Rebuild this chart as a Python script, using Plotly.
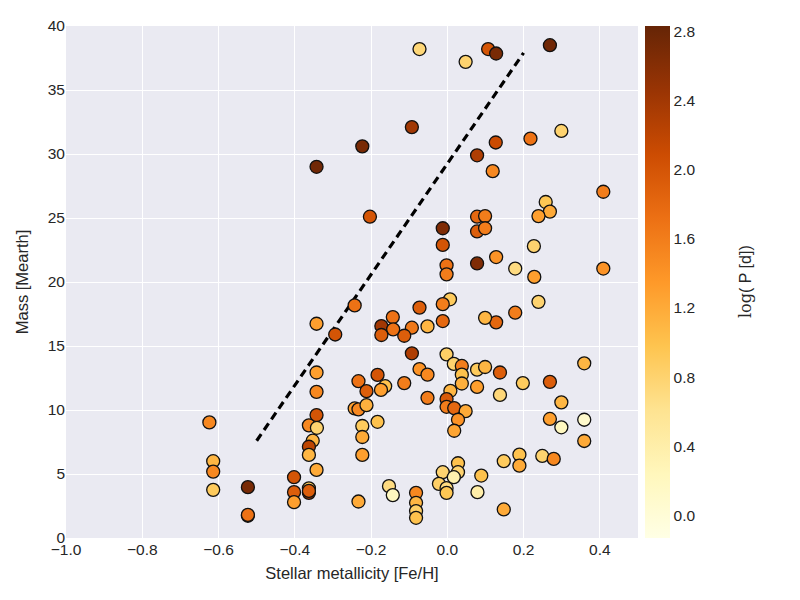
import plotly.graph_objects as go

feh = [-0.073, 0.048, 0.107, 0.128, 0.269, -0.093, -0.223, -0.343, -0.203, 0.078,
       0.127, 0.218, 0.299, 0.119, 0.409, 0.258, 0.269, 0.239, 0.078, 0.099,
       -0.012, 0.078, 0.099, -0.012, 0.227, 0.128, -0.002, -0.002, 0.078, 0.178,
       0.409, 0.228, 0.239, 0.178, 0.128, 0.099, 0.007, -0.012, -0.073, -0.012,
       -0.052, -0.093, -0.113, -0.093, -0.002, 0.017, 0.038, 0.038, 0.038, 0.078,
       0.099, 0.138, 0.078, 0.138, 0.198, 0.269, 0.359, 0.299, 0.269, 0.299,
       0.359, 0.359, -0.073, -0.052, -0.113, -0.052, 0.008, -0.002, -0.002, 0.018,
       0.048, 0.028, 0.018, 0.148, 0.189, 0.189, 0.249, 0.279, -0.012, 0.028,
       0.028, 0.017, -0.022, -0.002, -0.002, 0.089, 0.079, 0.148, -0.082, -0.082,
       -0.082, -0.082, -0.243, -0.343, -0.294, -0.173, -0.143, -0.142, -0.173, -0.343,
       -0.343, -0.233, -0.183, -0.212, -0.163, -0.174, -0.243, -0.233, -0.212, -0.343,
       -0.363, -0.342, -0.353, -0.363, -0.363, -0.223, -0.183, -0.223, -0.223, -0.343,
       -0.624, -0.614, -0.614, -0.614, -0.523, -0.523, -0.523, -0.402, -0.402, -0.402,
       -0.363, -0.363, -0.363, -0.233, -0.153, -0.143]

mass = [38.2, 37.2, 38.2, 37.85, 38.5, 32.1, 30.6, 29.0, 25.1, 29.9,
        30.9, 31.2, 31.8, 28.66, 27.05, 26.25, 25.5, 25.15, 25.1, 25.15,
        24.2, 23.95, 24.2, 22.9, 22.8, 21.95, 21.3, 20.6, 21.45, 21.05,
        21.05, 20.4, 18.45, 17.6, 16.85, 17.2, 18.65, 18.27, 18.0, 16.95,
        16.53, 16.43, 15.8, 14.43, 14.35, 13.6, 13.44, 12.76, 12.07, 13.15,
        13.36, 12.93, 11.8, 11.18, 12.1, 12.2, 13.65, 10.6, 9.3, 8.65,
        9.24, 7.58, 13.2, 12.76, 12.1, 10.95, 11.5, 10.85, 10.25, 10.15,
        9.91, 9.24, 8.38, 6.0, 6.51, 5.65, 6.41, 6.18, 5.14, 5.84,
        5.14, 4.75, 4.23, 3.9, 3.53, 4.88, 3.58, 2.23, 3.53, 2.75,
        2.1, 1.58, 18.17, 16.74, 15.9, 16.56, 17.26, 16.3, 15.86, 12.93,
        11.42, 12.25, 12.74, 11.47, 11.86, 11.57, 10.12, 10.05, 10.38, 9.6,
        8.8, 8.61, 7.6, 7.13, 6.49, 8.75, 9.08, 7.89, 6.49, 5.32,
        9.03, 6.0, 5.19, 3.76, 3.97, 1.74, 1.81, 4.75, 3.58, 2.8,
        3.88, 3.53, 3.68, 2.85, 4.05, 3.35]

logp = [0.75, 0.8, 2.0, 2.7, 2.75, 2.4, 2.7, 2.75, 2.0, 2.3,
        2.1, 1.7, 0.8, 1.5, 1.6, 0.95, 1.2, 1.3, 1.8, 1.6,
        2.65, 1.9, 1.6, 2.0, 0.8, 1.4, 1.7, 1.6, 2.65, 0.7,
        1.4, 1.3, 0.8, 1.6, 1.8, 1.1, 0.9, 1.6, 1.9, 1.8,
        1.1, 1.65, 1.9, 2.3, 0.85, 0.8, 1.6, 1.0, 1.15, 0.9,
        1.1, 1.9, 1.3, 0.75, 0.9, 1.9, 1.1, 1.1, 1.3, 0.2,
        0.1, 1.2, 1.4, 1.5, 1.6, 1.6, 1.1, 1.95, 1.6, 1.8,
        1.2, 1.4, 1.25, 0.9, 1.0, 1.2, 0.8, 1.5, 0.8, 1.0,
        0.8, 0.35, 0.85, 0.7, 0.95, 1.0, 0.4, 1.2, 1.5, 1.1,
        0.85, 1.0, 1.7, 1.3, 2.0, 2.4, 1.7, 1.7, 1.9, 1.3,
        1.5, 1.7, 2.0, 1.9, 1.0, 1.3, 1.3, 1.5, 1.15, 2.0,
        1.5, 0.8, 1.1, 2.2, 1.1, 0.9, 1.0, 1.2, 1.3, 1.2,
        1.5, 1.1, 1.5, 0.9, 2.7, 2.7, 1.7, 2.0, 1.9, 1.3,
        0.9, 2.3, 1.9, 1.2, 0.7, 0.2]

line_x = [-0.5, 0.2]
line_y = [7.6, 37.9]

x_ticks = [-1.0, -0.8, -0.6, -0.4, -0.2, 0.0, 0.2, 0.4]
y_ticks = [0, 5, 10, 15, 20, 25, 30, 35, 40]
cb_ticks = [0.0, 0.4, 0.8, 1.2, 1.6, 2.0, 2.4, 2.8]

ylorbr = [[0.0, "#ffffe5"], [0.125, "#fff7bc"], [0.25, "#fee391"], [0.375, "#fec44f"],
          [0.5, "#fe9929"], [0.625, "#ec7014"], [0.75, "#cc4c02"], [0.875, "#993404"],
          [1.0, "#662506"]]

font = "Liberation Sans, Arial, sans-serif"
txt = "#262626"

fig = go.Figure()
fig.add_trace(go.Scatter(
    x=line_x, y=line_y, mode="lines",
    line=dict(color="black", width=3.2, dash="8px,5px"),
    showlegend=False, hoverinfo="skip"))
fig.add_trace(go.Scatter(
    x=feh, y=mass, mode="markers", showlegend=False,
    marker=dict(size=13, color=logp, colorscale=ylorbr, cmin=-0.13, cmax=2.83,
                line=dict(color="#111111", width=1.3),
                colorbar=dict(
                    x=1.012, xanchor="left", xref="paper", xpad=0, ypad=0,
                    y=0.5, yanchor="middle", len=1.0, lenmode="fraction",
                    thickness=25, outlinewidth=0,
                    tickvals=cb_ticks, ticktext=[f"{v:.1f}" for v in cb_ticks],
                    ticks="", ticklen=0,
                    tickfont=dict(family=font, size=15.5, color=txt),
                ))))

fig.add_annotation(
    text="<span style='font-family:\"DejaVu Serif\", serif'>log</span>( P [d])",
    xref="paper", yref="paper", x=(745 - 66) / 572, y=0.5,
    xanchor="center", yanchor="middle", showarrow=False, textangle=-90,
    font=dict(family=font, size=16, color=txt))

fig.update_layout(
    width=800, height=600,
    paper_bgcolor="white", plot_bgcolor="#EAEAF2",
    margin=dict(l=66, r=162, t=26, b=62),
    font=dict(family=font, color=txt, size=15.5),
    xaxis=dict(range=[-1.0, 0.5], tickvals=x_ticks, tickformat=".1f",
               showgrid=True, gridcolor="white", gridwidth=1, zeroline=False,
               ticks="", showline=False,
               tickfont=dict(size=15.5, color=txt),
               title=dict(text="Stellar metallicity [Fe/H]", font=dict(size=16.5, color=txt), standoff=10)),
    yaxis=dict(range=[0, 40], tickvals=y_ticks,
               showgrid=True, gridcolor="white", gridwidth=1, zeroline=False,
               ticks="", showline=False,
               tickfont=dict(size=15.5, color=txt),
               title=dict(text="Mass [Mearth]", font=dict(size=16.5, color=txt), standoff=14)),
)

fig.write_html("out.html")
